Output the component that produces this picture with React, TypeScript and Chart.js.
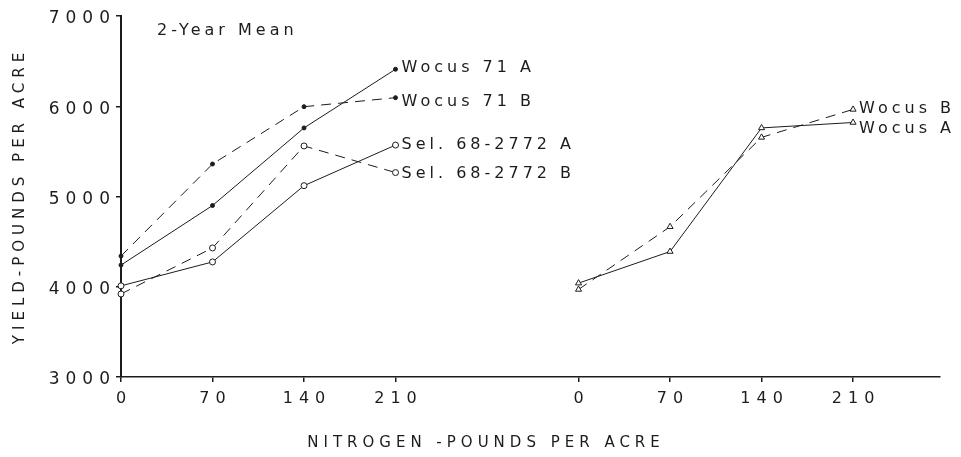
import React, { useEffect, useRef } from "react";
import { Chart, registerables } from "chart.js";

Chart.register(...registerables);

// ---- data ----
const nitrogen = [0, 70, 140, 210];
const rightGroupOffset = 350; // second panel starts at this x position on the shared axis
const wocus71A = [4240, 4900, 5760, 6410];
const wocus71B = [4340, 5360, 5995, 6095];
const sel68A = [4010, 4275, 5120, 5570];
const sel68B = [3920, 4430, 5560, 5265];
const wocusA = [4040, 4390, 5760, 5820];
const wocusB = [3970, 4665, 5655, 5965];
const xTickLabels = ["0", "70", "140", "210"];
const yTicks = [3000, 4000, 5000, 6000, 7000];

const FONT = '"DejaVu Sans", "Liberation Sans", sans-serif';
const INK = "#1c1c1c";

const toPts = (vals: number[], offset: number) =>
  vals.map((v, i) => ({ x: nitrogen[i] + offset, y: v }));

type Style = { dashed: boolean; point: string; radius: number; fill: string; dy: number };

const seriesDefs: { label: string; values: number[]; offset: number; style: Style }[] = [
  { label: "Wocus 71 A", values: wocus71A, offset: 0, style: { dashed: false, point: "circle", radius: 2, fill: INK, dy: -1 } },
  { label: "Wocus 71 B", values: wocus71B, offset: 0, style: { dashed: true, point: "circle", radius: 2, fill: INK, dy: 4 } },
  { label: "Sel. 68-2772 A", values: sel68A, offset: 0, style: { dashed: false, point: "circle", radius: 3, fill: "#fff", dy: 0 } },
  { label: "Sel. 68-2772 B", values: sel68B, offset: 0, style: { dashed: true, point: "circle", radius: 3, fill: "#fff", dy: 1 } },
  { label: "Wocus B", values: wocusB, offset: rightGroupOffset, style: { dashed: true, point: "triangle", radius: 3.5, fill: "#fff", dy: -1 } },
  { label: "Wocus A", values: wocusA, offset: rightGroupOffset, style: { dashed: false, point: "triangle", radius: 3.5, fill: "#fff", dy: 6 } },
];

const xTickValues = [...nitrogen, ...nitrogen.map((n) => n + rightGroupOffset)];

export default function App() {
  const ref = useRef<HTMLCanvasElement | null>(null);

  useEffect(() => {
    document.body.style.margin = "0";
    const canvas = ref.current!;
    const annotate = {
      id: "annotate",
      beforeDraw(chart: any) {
        chart.ctx.letterSpacing = "6px";
      },
      afterDraw(chart: any) {
        const ctx = chart.ctx;
        const area = chart.chartArea;
        ctx.save();
        ctx.fillStyle = INK;
        ctx.font = `16px ${FONT}`;
        ctx.letterSpacing = "4px";
        ctx.textBaseline = "middle";
        ctx.textAlign = "left";
        ctx.fillText("2-Year Mean", area.left + 36, area.top + 15);
        chart.data.datasets.forEach((ds: any, i: number) => {
          const meta = chart.getDatasetMeta(i);
          const last = meta.data[meta.data.length - 1];
          ctx.fillText(ds.label, last.x + 6, last.y + seriesDefs[i].style.dy);
        });
        ctx.font = `15px ${FONT}`;
        ctx.letterSpacing = "5px";
        ctx.textAlign = "center";
        ctx.fillText("NITROGEN -POUNDS PER ACRE", 486, 443);
        ctx.translate(20, 196);
        ctx.rotate(-Math.PI / 2);
        ctx.fillText("YIELD-POUNDS PER ACRE", 0, 0);
        ctx.restore();
      },
    };

    const chart = new Chart(canvas, {
      type: "line",
      data: {
        datasets: seriesDefs.map((s) => ({
          label: s.label,
          data: toPts(s.values, s.offset),
          borderColor: INK,
          borderWidth: 1,
          borderDash: s.style.dashed ? [10, 7] : [],
          pointStyle: s.style.point as any,
          pointRadius: s.style.radius,
          pointBackgroundColor: s.style.fill,
          pointBorderColor: INK,
          pointBorderWidth: 1,
          tension: 0,
          clip: false as any,
          fill: false,
        })),
      },
      options: {
        animation: false,
        responsive: false,
        devicePixelRatio: 1,
        layout: { padding: { top: 16, right: 21, left: 0, bottom: 0 } },
        plugins: { legend: { display: false }, tooltip: { enabled: false }, title: { display: false } },
        scales: {
          x: {
            type: "linear",
            min: 0,
            max: 626.5,
            afterBuildTicks: (scale: any) => {
              scale.ticks = xTickValues.map((v) => ({ value: v }));
            },
            afterFit: (scale: any) => {
              scale.height = 80;
            },
            border: { display: true, color: INK, width: 1.5 },
            grid: { display: true, drawOnChartArea: false, drawTicks: true, tickLength: 5, color: INK, lineWidth: 1.5 },
            ticks: {
              autoSkip: false,
              maxRotation: 0,
              padding: 7,
              labelOffset: 3,
              color: INK,
              font: { family: FONT, size: 16 },
              callback: (v: any) => xTickLabels[nitrogen.indexOf(v >= rightGroupOffset ? v - rightGroupOffset : v)],
            },
          },
          y: {
            type: "linear",
            min: 3000,
            max: 7000,
            afterBuildTicks: (scale: any) => {
              scale.ticks = yTicks.map((v) => ({ value: v }));
            },
            afterFit: (scale: any) => {
              scale.width = 121;
            },
            border: { display: true, color: INK, width: 2 },
            grid: { display: true, drawOnChartArea: false, drawTicks: true, tickLength: 5, color: INK, lineWidth: 1.5 },
            ticks: {
              padding: 0,
              labelOffset: 3,
              color: INK,
              font: { family: FONT, size: 17 },
              callback: (v: any) => String(v),
            },
          },
        },
      },
      plugins: [annotate],
    });
    return () => chart.destroy();
  }, []);

  return (
    <div style={{ width: 961, height: 457, background: "#fff" }}>
      <canvas ref={ref} width={961} height={457} style={{ display: "block" }} />
    </div>
  );
}
